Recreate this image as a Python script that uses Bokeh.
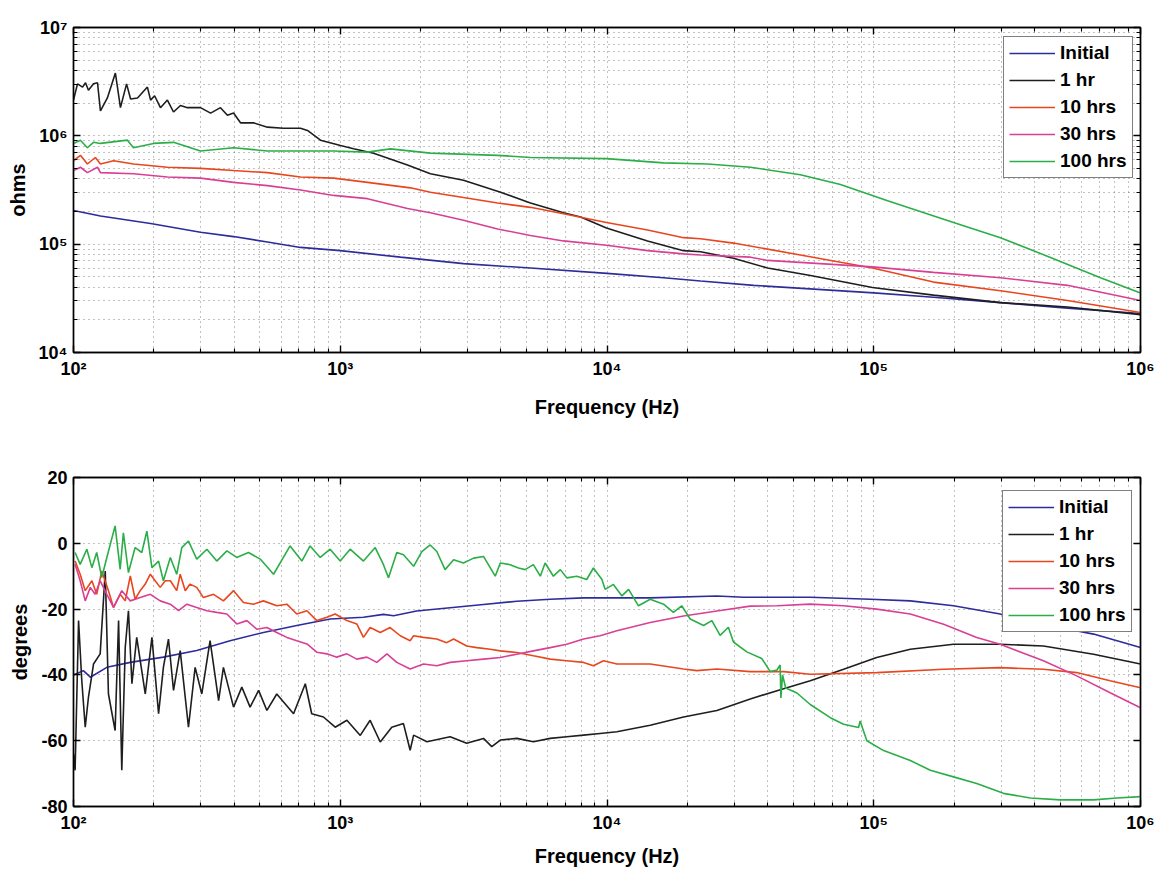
from bokeh.plotting import figure
from bokeh.layouts import column
from bokeh.models import FixedTicker, LogAxis, LinearAxis, Range1d
from bokeh.embed import file_html
from bokeh.resources import INLINE

FONT = "Liberation Sans"

series_labels = ["Initial", "1 hr", "10 hrs", "30 hrs", "100 hrs"]
series_colors = ["#2c2c9c", "#1e1e1e", "#e8461e", "#d93f95", "#2aae48"]

freq_ticks = [1e2, 1e3, 1e4, 1e5, 1e6]
freq_tick_labels = ["10²", "10³", "10⁴", "10⁵", "10⁶"]
ohm_ticks = [1e4, 1e5, 1e6, 1e7]
ohm_tick_labels = ["10⁴", "10⁵", "10⁶", "10⁷"]
deg_ticks = [-80, -60, -40, -20, 0, 20]
deg_tick_labels = ["-80", "-60", "-40", "-20", "0", "20"]

# ---- Impedance magnitude: log10(frequency / Hz), log10(|Z| / ohm) ----
mag_initial_logf = [2.0, 2.101, 2.289, 2.476, 2.600, 2.727, 2.851, 3.0, 3.226, 3.462, 3.713, 4.0, 4.212, 4.351, 4.55, 5.0, 5.224, 5.475, 5.726, 6.0]
mag_initial_logz = [5.31, 5.26, 5.19, 5.11, 5.07, 5.02, 4.97, 4.94, 4.88, 4.82, 4.78, 4.73, 4.69, 4.66, 4.62, 4.55, 4.51, 4.46, 4.41, 4.36]

mag_1hr_logf = [2.0, 2.015, 2.034, 2.045, 2.056, 2.075, 2.090, 2.101, 2.127, 2.157, 2.176, 2.199, 2.214, 2.240, 2.277, 2.289, 2.304, 2.326, 2.352, 2.375, 2.401, 2.427, 2.476, 2.514, 2.551, 2.577, 2.600, 2.626, 2.675, 2.727, 2.787, 2.851, 2.877, 2.926, 3.001, 3.050, 3.125, 3.252, 3.338, 3.462, 3.601, 3.713, 3.837, 3.901, 3.998, 4.152, 4.287, 4.351, 4.474, 4.602, 4.763, 4.995, 5.224, 5.475, 5.726, 6.0]
mag_1hr_logz = [6.33, 6.48, 6.45, 6.49, 6.42, 6.48, 6.49, 6.23, 6.35, 6.58, 6.26, 6.48, 6.34, 6.35, 6.45, 6.33, 6.37, 6.26, 6.33, 6.22, 6.28, 6.26, 6.26, 6.21, 6.26, 6.19, 6.21, 6.12, 6.12, 6.08, 6.07, 6.07, 6.05, 5.96, 5.91, 5.88, 5.84, 5.73, 5.65, 5.59, 5.48, 5.38, 5.29, 5.25, 5.15, 5.03, 4.94, 4.93, 4.87, 4.78, 4.71, 4.60, 4.53, 4.46, 4.42, 4.35]

mag_10hr_logf = [2.0, 2.026, 2.052, 2.082, 2.101, 2.150, 2.225, 2.352, 2.476, 2.600, 2.727, 2.851, 2.975, 3.102, 3.263, 3.338, 3.462, 3.590, 3.713, 3.837, 3.998, 4.152, 4.287, 4.351, 4.474, 4.725, 4.995, 5.224, 5.475, 5.726, 6.0]
mag_10hr_logz = [5.77, 5.82, 5.74, 5.80, 5.74, 5.77, 5.74, 5.71, 5.70, 5.68, 5.66, 5.62, 5.61, 5.57, 5.52, 5.48, 5.43, 5.38, 5.34, 5.28, 5.20, 5.13, 5.06, 5.05, 5.01, 4.90, 4.78, 4.65, 4.57, 4.48, 4.37]

mag_30hr_logf = [2.0, 2.026, 2.052, 2.090, 2.101, 2.225, 2.352, 2.476, 2.600, 2.727, 2.851, 2.975, 3.102, 3.252, 3.338, 3.462, 3.590, 3.713, 3.837, 3.998, 4.152, 4.287, 4.351, 4.538, 4.602, 4.995, 5.224, 5.475, 5.726, 6.0]
mag_30hr_logz = [5.68, 5.71, 5.66, 5.71, 5.66, 5.65, 5.62, 5.61, 5.57, 5.54, 5.50, 5.45, 5.42, 5.33, 5.29, 5.22, 5.14, 5.08, 5.03, 4.99, 4.94, 4.91, 4.90, 4.88, 4.85, 4.79, 4.74, 4.69, 4.62, 4.48]

mag_100hr_logf = [2.0, 2.026, 2.052, 2.075, 2.101, 2.202, 2.225, 2.300, 2.375, 2.476, 2.600, 2.727, 2.851, 2.975, 3.102, 3.188, 3.338, 3.590, 3.713, 3.998, 4.212, 4.377, 4.538, 4.725, 4.875, 5.052, 5.299, 5.475, 5.599, 5.850, 6.0]
mag_100hr_logz = [5.93, 5.96, 5.89, 5.94, 5.93, 5.96, 5.89, 5.93, 5.94, 5.86, 5.89, 5.86, 5.86, 5.86, 5.85, 5.88, 5.84, 5.82, 5.80, 5.79, 5.75, 5.74, 5.71, 5.64, 5.55, 5.40, 5.20, 5.06, 4.94, 4.69, 4.55]

# ---- Phase: log10(frequency / Hz), degrees ----
ph_initial_logf = [2.0, 2.037, 2.063, 2.125, 2.213, 2.337, 2.462, 2.587, 2.712, 2.837, 2.962, 3.087, 3.162, 3.200, 3.286, 3.412, 3.537, 3.662, 3.787, 3.912, 4.037, 4.162, 4.412, 4.512, 4.762, 4.987, 5.137, 5.299, 5.474, 5.636, 5.824, 6.0]
ph_initial_deg = [-40, -38.7, -40.7, -37.7, -36.2, -34.6, -32.6, -29.6, -27.1, -25.0, -23.0, -22.5, -21.6, -22.0, -20.6, -19.6, -18.6, -17.6, -17.0, -16.6, -16.6, -16.6, -16.0, -16.4, -16.4, -17.0, -17.5, -19.0, -21.5, -24.6, -27.6, -31.7]

ph_1hr_logf = [2.0, 2.006, 2.019, 2.031, 2.044, 2.056, 2.075, 2.100, 2.119, 2.131, 2.156, 2.169, 2.181, 2.194, 2.206, 2.219, 2.237, 2.269, 2.294, 2.319, 2.337, 2.356, 2.375, 2.400, 2.431, 2.456, 2.481, 2.512, 2.544, 2.562, 2.600, 2.631, 2.662, 2.694, 2.725, 2.762, 2.825, 2.869, 2.893, 2.937, 2.981, 3.025, 3.075, 3.112, 3.150, 3.193, 3.237, 3.262, 3.275, 3.325, 3.412, 3.474, 3.537, 3.568, 3.600, 3.662, 3.724, 3.787, 3.849, 3.912, 3.974, 4.037, 4.162, 4.287, 4.412, 4.537, 4.662, 4.762, 4.887, 5.011, 5.137, 5.299, 5.474, 5.636, 5.824, 6.0]
ph_1hr_deg = [-64, -69, -23.5, -41.7, -55.9, -46.8, -36.7, -33.6, -8.4, -45.8, -56.9, -23.5, -69, -31.6, -20.5, -42.7, -28.6, -45.8, -28.6, -51.8, -37.7, -29.1, -44.7, -32.6, -55.9, -37.7, -45.8, -29.6, -47.8, -37.7, -49.8, -43.7, -49.8, -44.7, -50.8, -45.8, -51.8, -42.7, -51.8, -52.8, -55.9, -53.8, -58.4, -53.8, -60.4, -55.9, -54.8, -62.9, -58.3, -60.3, -58.8, -60.8, -59.3, -61.8, -59.8, -59.3, -60.3, -59.3, -58.8, -58.3, -57.8, -57.3, -55.3, -52.8, -50.8, -47.3, -44.2, -41.8, -38.3, -34.7, -32.2, -30.7, -30.7, -31.2, -33.7, -36.7]

ph_10hr_logf = [2.006, 2.025, 2.044, 2.069, 2.087, 2.106, 2.131, 2.150, 2.175, 2.194, 2.213, 2.231, 2.250, 2.269, 2.288, 2.306, 2.325, 2.344, 2.363, 2.387, 2.400, 2.419, 2.437, 2.462, 2.487, 2.525, 2.562, 2.600, 2.637, 2.675, 2.712, 2.762, 2.800, 2.837, 2.875, 2.912, 2.950, 2.981, 3.025, 3.062, 3.087, 3.112, 3.150, 3.187, 3.225, 3.262, 3.275, 3.312, 3.362, 3.399, 3.425, 3.474, 3.512, 3.562, 3.600, 3.662, 3.724, 3.787, 3.849, 3.912, 3.949, 3.987, 4.037, 4.162, 4.287, 4.337, 4.412, 4.537, 4.662, 4.762, 5.011, 5.262, 5.474, 5.636, 5.761, 5.886, 6.0]
ph_10hr_deg = [-5.4, -9.4, -14.4, -11.4, -15.5, -8.4, -14.4, -19.5, -15.5, -17.5, -9.9, -17, -14.4, -12.4, -9.4, -11.4, -13.4, -11.4, -11.4, -14.4, -9.4, -14.4, -12.4, -13.4, -16.5, -15.5, -17.5, -14.4, -18, -18.5, -17.5, -19, -18.5, -21.5, -20.5, -23.5, -22.5, -21.5, -23.5, -24.5, -28.6, -25.6, -27.1, -25.6, -28.1, -29.6, -28.1, -28.6, -29.1, -30.2, -29.1, -31.2, -31.7, -32.2, -32.7, -33.2, -34.2, -35.2, -35.7, -36.2, -37.2, -35.7, -36.7, -36.7, -38.2, -38.7, -38.2, -39, -39, -39.8, -39.3, -38.3, -37.8, -38.3, -39.3, -41.8, -43.9]

ph_30hr_logf = [2.006, 2.025, 2.044, 2.063, 2.081, 2.100, 2.125, 2.150, 2.181, 2.213, 2.250, 2.288, 2.325, 2.363, 2.394, 2.425, 2.462, 2.500, 2.537, 2.575, 2.612, 2.650, 2.687, 2.725, 2.762, 2.800, 2.837, 2.875, 2.912, 2.950, 2.987, 3.025, 3.062, 3.100, 3.137, 3.175, 3.212, 3.262, 3.312, 3.362, 3.412, 3.474, 3.537, 3.600, 3.662, 3.724, 3.787, 3.849, 3.912, 3.974, 4.037, 4.162, 4.287, 4.412, 4.537, 4.637, 4.762, 4.887, 5.011, 5.137, 5.262, 5.386, 5.474, 5.636, 5.761, 5.886, 6.0]
ph_30hr_deg = [-6.4, -11.4, -17.5, -13.4, -15.5, -11.4, -15.5, -19.5, -14.4, -17.5, -16.5, -15.5, -17.5, -18.5, -20.5, -18.5, -19.5, -20.5, -21, -21.5, -24.5, -23.5, -26.1, -25.6, -27.1, -28.6, -29.6, -30.6, -33.1, -33.6, -34.6, -33.6, -35.2, -34.6, -36.2, -33.6, -36.2, -38.2, -36.7, -37.2, -36.2, -35.7, -35.2, -34.7, -33.7, -32.7, -31.7, -30.7, -29.1, -28.1, -26.6, -24.1, -22.1, -20.6, -19.1, -19, -18.5, -19, -20, -21.5, -24.6, -28.6, -30.7, -35.7, -40.3, -45.4, -50]

ph_100hr_logf = [2.006, 2.025, 2.050, 2.069, 2.087, 2.106, 2.125, 2.156, 2.175, 2.187, 2.206, 2.231, 2.256, 2.275, 2.294, 2.319, 2.337, 2.363, 2.387, 2.406, 2.431, 2.462, 2.500, 2.537, 2.575, 2.612, 2.656, 2.700, 2.750, 2.812, 2.856, 2.887, 2.925, 2.962, 3.000, 3.037, 3.087, 3.131, 3.162, 3.181, 3.212, 3.237, 3.275, 3.306, 3.337, 3.362, 3.393, 3.425, 3.462, 3.500, 3.537, 3.581, 3.600, 3.637, 3.668, 3.693, 3.724, 3.750, 3.768, 3.799, 3.825, 3.849, 3.887, 3.924, 3.949, 3.981, 3.993, 4.024, 4.056, 4.081, 4.118, 4.162, 4.212, 4.249, 4.280, 4.312, 4.362, 4.393, 4.424, 4.455, 4.474, 4.524, 4.580, 4.612, 4.637, 4.649, 4.652, 4.658, 4.670, 4.712, 4.762, 4.837, 4.887, 4.943, 4.949, 4.974, 5.037, 5.137, 5.212, 5.299, 5.386, 5.486, 5.587, 5.699, 5.824, 5.911, 6.0]
ph_100hr_deg = [-2.8, -6.4, -1.8, -7.4, -2.8, -10.4, -4.3, 5.3, -7.9, 3.2, -8.9, -1.3, -2.8, 3.7, -7.4, -5.4, -11.4, -4.3, -9.4, -1.3, 0.7, -4.8, -1.8, -5.4, -2.3, -4.3, -2.8, -4.8, -9.4, -0.8, -5.4, -0.8, -4.3, -1.8, -5.4, -1.8, -5.4, -1.3, -6.5, -10.5, -2.8, -3.5, -7, -2.5, -0.5, -2.5, -8, -5, -6, -4.5, -4, -10, -6, -6.5, -7.5, -8, -6.5, -10, -6, -10, -8, -10.5, -10, -11, -7.5, -11, -14, -12.5, -16, -14, -19, -17, -18.5, -21, -19, -23, -25, -23.5, -28, -25.5, -30, -33, -35, -39, -38.5, -37, -47, -40, -44, -45.5, -49, -53, -55, -56, -54, -60, -63, -66, -69, -71, -73, -76, -77.4, -78, -78, -77.4, -77]

mag_series = [(mag_initial_logf, mag_initial_logz), (mag_1hr_logf, mag_1hr_logz),
              (mag_10hr_logf, mag_10hr_logz), (mag_30hr_logf, mag_30hr_logz),
              (mag_100hr_logf, mag_100hr_logz)]
ph_series = [(ph_initial_logf, ph_initial_deg), (ph_1hr_logf, ph_1hr_deg),
             (ph_10hr_logf, ph_10hr_deg), (ph_30hr_logf, ph_30hr_deg),
             (ph_100hr_logf, ph_100hr_deg)]


def decade_minors(lo, hi):
    return [m * 10 ** e for e in range(lo, hi) for m in range(2, 10)]


def style_axis(ax, ticker, labels, minor=True, show=True):
    ax.ticker = ticker
    ax.axis_line_color = "black"
    ax.axis_line_width = 1.4
    ax.major_tick_line_color = "black"
    ax.major_tick_line_width = 1.4
    ax.major_tick_in = 7
    ax.major_tick_out = 0
    ax.minor_tick_line_color = "black"
    ax.minor_tick_line_width = 1.1
    ax.minor_tick_in = 4 if minor else 0
    ax.minor_tick_out = 0
    ax.major_label_text_font = FONT
    ax.major_label_text_font_style = "bold"
    ax.major_label_text_font_size = "18px"
    ax.major_label_text_color = "black"
    ax.major_label_standoff = 6
    if show:
        ax.major_label_overrides = {t: l for t, l in zip(ticker.ticks, labels)}
    else:
        ax.major_label_overrides = {t: "" for t in ticker.ticks}
        ax.major_label_standoff = 0
    ax.axis_label_text_font = FONT
    ax.axis_label_text_font_style = "bold"
    ax.axis_label_text_font_size = "20px"
    ax.axis_label_text_color = "black"


def style_grid(g, minor=True):
    g.grid_line_color = "#333333"
    g.grid_line_alpha = 0.6
    g.grid_line_dash = "1 4"
    g.grid_line_width = 1
    if minor:
        g.minor_grid_line_color = "#333333"
        g.minor_grid_line_alpha = 0.6
        g.minor_grid_line_dash = "1 4"
        g.minor_grid_line_width = 1


def style_legend(p, loc):
    leg = p.legend[0]
    leg.location = loc
    leg.margin = 0
    leg.padding = 5
    leg.spacing = 5
    leg.label_height = 22
    leg.glyph_height = 22
    leg.glyph_width = 46
    leg.label_standoff = 5
    leg.label_text_font = FONT
    leg.label_text_font_style = "bold"
    leg.label_text_font_size = "19px"
    leg.label_text_color = "black"
    leg.border_line_color = "black"
    leg.border_line_width = 1.4
    leg.background_fill_color = "white"
    leg.background_fill_alpha = 1.0


x_ticker = FixedTicker(ticks=freq_ticks, minor_ticks=decade_minors(2, 6))

# ---------------- top: magnitude ----------------
p1 = figure(x_axis_type="log", y_axis_type="log",
            x_range=Range1d(1e2, 1e6), y_range=Range1d(1e4, 1e7),
            frame_width=1067, frame_height=325,
            min_border_left=73, min_border_right=17, min_border_top=27, min_border_bottom=78,
            output_backend="svg", toolbar_location=None,
            background_fill_color="white", border_fill_color="white")
p1.outline_line_color = "black"
p1.outline_line_width = 1.4

y1_ticker = FixedTicker(ticks=ohm_ticks, minor_ticks=decade_minors(4, 7))
style_axis(p1.xaxis[0], x_ticker, freq_tick_labels)
style_axis(p1.yaxis[0], y1_ticker, ohm_tick_labels)
p1.xaxis[0].axis_label = "Frequency (Hz)"
p1.xaxis[0].axis_label_standoff = 14
p1.yaxis[0].axis_label = "ohms"
p1.yaxis[0].axis_label_standoff = 7
top1 = LogAxis()
right1 = LogAxis()
p1.add_layout(top1, "above")
p1.add_layout(right1, "right")
style_axis(top1, x_ticker, freq_tick_labels, show=False)
style_axis(right1, y1_ticker, ohm_tick_labels, show=False)
style_grid(p1.xgrid[0])
style_grid(p1.ygrid[0])

for (lf, lz), name, col in zip(mag_series, series_labels, series_colors):
    p1.line([10 ** v for v in lf], [10 ** v for v in lz], line_color=col,
            line_width=1.6, legend_label=name)
style_legend(p1, (930, 174))

# ---------------- bottom: phase ----------------
p2 = figure(x_axis_type="log",
            x_range=Range1d(1e2, 1e6), y_range=Range1d(-80, 20),
            frame_width=1067, frame_height=329,
            min_border_left=70, min_border_right=20, min_border_top=47, min_border_bottom=67,
            output_backend="svg", toolbar_location=None,
            background_fill_color="white", border_fill_color="white")
p2.outline_line_color = "black"
p2.outline_line_width = 1.4

y2_ticker = FixedTicker(ticks=deg_ticks, minor_ticks=[])
style_axis(p2.xaxis[0], x_ticker, freq_tick_labels)
style_axis(p2.yaxis[0], y2_ticker, deg_tick_labels, minor=False)
p2.xaxis[0].axis_label = "Frequency (Hz)"
p2.xaxis[0].axis_label_standoff = 9
p2.yaxis[0].axis_label = "degrees"
p2.yaxis[0].axis_label_standoff = 7
top2 = LogAxis()
right2 = LinearAxis()
p2.add_layout(top2, "above")
p2.add_layout(right2, "right")
style_axis(top2, x_ticker, freq_tick_labels, show=False)
style_axis(right2, y2_ticker, deg_tick_labels, minor=False, show=False)
style_grid(p2.xgrid[0])
style_grid(p2.ygrid[0], minor=False)

for (lf, dg), name, col in zip(ph_series, series_labels, series_colors):
    p2.line([10 ** v for v in lf], dg, line_color=col, line_width=1.6, legend_label=name)
style_legend(p2, (929, 174))

layout = column(p1, p2, spacing=0)
open("out.html", "w").write(file_html(layout, INLINE))
